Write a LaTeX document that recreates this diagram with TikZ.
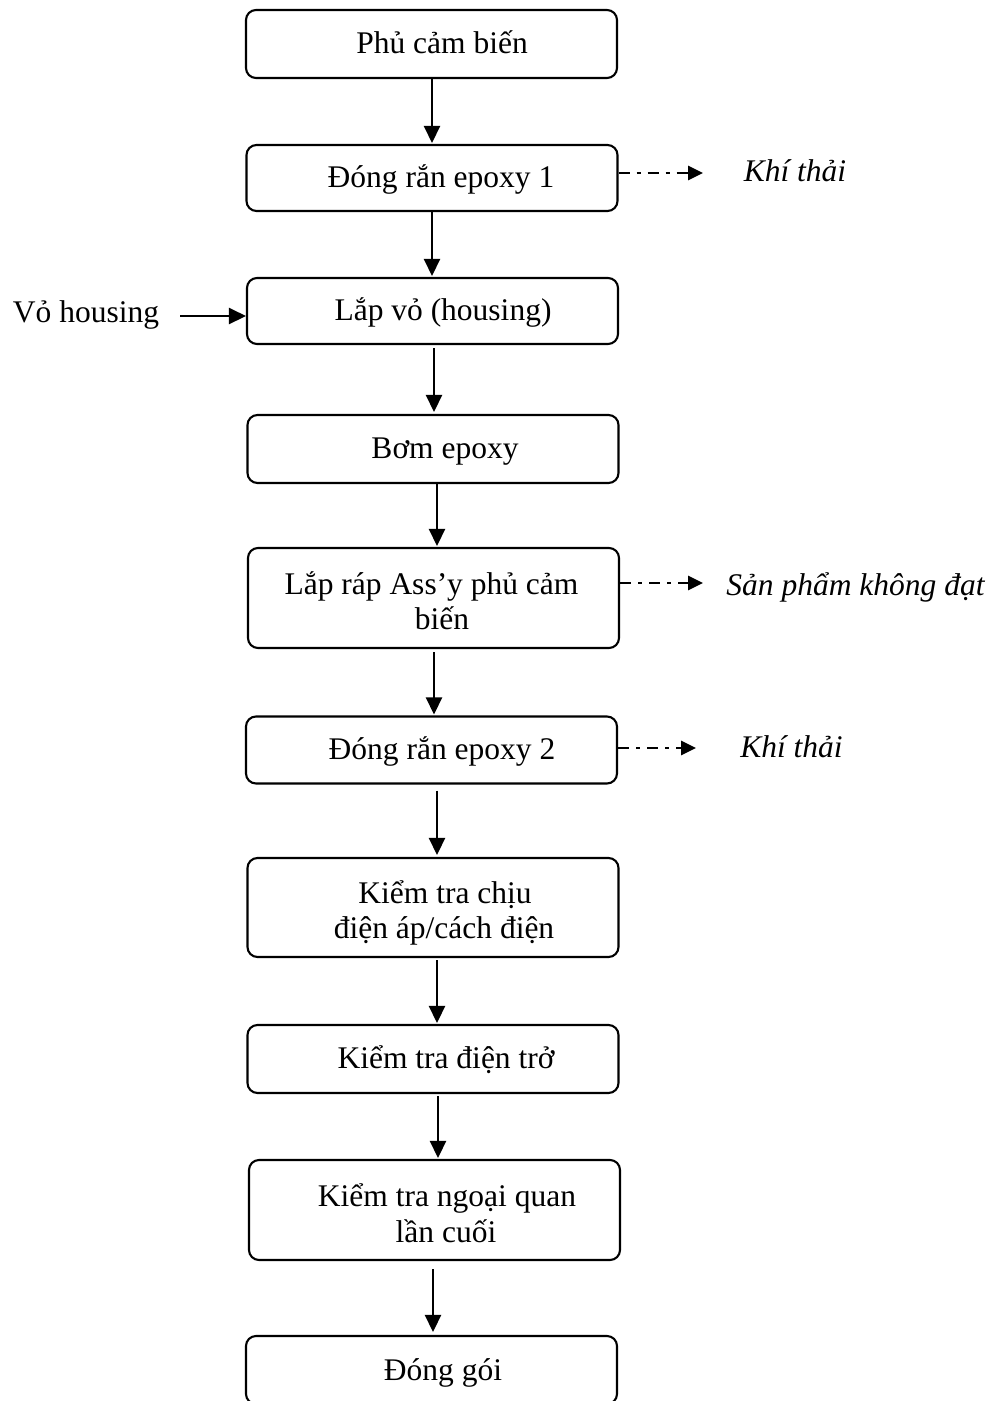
\documentclass[tikz,border=0pt]{standalone}
\usepackage{fontspec}
\setmainfont{Liberation Serif}
\usetikzlibrary{arrows.meta}
\begin{document}
\begin{tikzpicture}[x=1pt,y=-1pt,
  box/.style={draw, rounded corners=10pt, line width=2.1pt, minimum width=371pt, inner sep=0pt},
  txt/.style={anchor=base, inner sep=0pt, font=\fontsize{31.5}{36}\selectfont},
  side/.style={anchor=base, inner sep=0pt, font=\fontsize{31.5}{36}\selectfont\itshape},
  arr/.style={line width=2.5pt, -{Triangle[length=17pt,width=16pt]}},
  darr/.style={line width=2.8pt, dash pattern=on 11pt off 7pt on 4pt off 7pt, -{Triangle[length=15pt,width=14pt]}}]
\useasboundingbox (0,0) rectangle (997,1401);
\clip (0,0) rectangle (997,1401);

% process boxes
\node[box, minimum height=68pt]  (b1)  at (431.5,44)   {};
\node[box, minimum height=66pt]  (b2)  at (432,178)    {};
\node[box, minimum height=66pt]  (b3)  at (432.5,311)  {};
\node[box, minimum height=68pt]  (b4)  at (433,449)    {};
\node[box, minimum height=100pt] (b5)  at (433.5,598)  {};
\node[box, minimum height=67pt]  (b6)  at (431.5,750)  {};
\node[box, minimum height=99pt]  (b7)  at (433,907.5)  {};
\node[box, minimum height=68pt]  (b8)  at (433,1059)   {};
\node[box, minimum height=100pt] (b9)  at (434.5,1210) {};
\node[box, minimum height=68pt]  (b10) at (431.5,1370) {};

% box texts
\node[txt] (t1)  at (442,53)    {Phủ cảm biến};
\node[txt] (t2)  at (441,187)   {Đóng rắn epoxy 1};
\node[txt] (t3)  at (443,320)   {Lắp vỏ (housing)};
\node[txt] (t4)  at (445,458)   {Bơm epoxy};
\node[txt] (t5a) at (431.5,594) {Lắp ráp Ass’y phủ cảm};
\node[txt] (t5b) at (442,629)   {biến};
\node[txt] (t6)  at (442,759)   {Đóng rắn epoxy 2};
\node[txt] (t7a) at (445,903)   {Kiểm tra chịu};
\node[txt] (t7b) at (444,938)   {điện áp/cách điện};
\node[txt] (t8)  at (446,1068)  {Kiểm tra điện trở};
\node[txt] (t9a) at (447,1206)  {Kiểm tra ngoại quan};
\node[txt] (t9b) at (446,1242)  {lần cuối};
\node[txt] (t10) at (443,1380)  {Đóng gói};

% main flow
\coordinate (a1) at (432,0);
\coordinate (a2) at (432,0);
\coordinate (a3) at (434,0);
\coordinate (a4) at (437,0);
\coordinate (a5) at (434,0);
\coordinate (a6) at (437,0);
\coordinate (a7) at (437,0);
\coordinate (a8) at (438,0);
\coordinate (a9) at (433,0);
\draw[arr, shorten >=1pt]              (b1.south -| a1) -- (b2.north -| a1);
\draw[arr, shorten >=1pt]              (b2.south -| a2) -- (b3.north -| a2);
\draw[arr, shorten <=3pt, shorten >=2pt] (b3.south -| a3) -- (b4.north -| a3);
\draw[arr, shorten >=1pt]              (b4.south -| a4) -- (b5.north -| a4);
\draw[arr, shorten <=3pt, shorten >=1pt] (b5.south -| a5) -- (b6.north -| a5);
\draw[arr, shorten <=6pt, shorten >=2pt] (b6.south -| a6) -- (b7.north -| a6);
\draw[arr, shorten <=2pt, shorten >=1pt] (b7.south -| a7) -- (b8.north -| a7);
\draw[arr, shorten <=2pt, shorten >=1pt] (b8.south -| a8) -- (b9.north -| a8);
\draw[arr, shorten <=8pt, shorten >=3pt] (b9.south -| a9) -- (b10.north -| a9);

% input
\node[txt] (h) at (86,322) {Vỏ housing};
\coordinate (hs) at (180,316);
\draw[arr] (hs) -- (hs -| b3.west);

% outputs
\coordinate (s1) at (703,173);
\coordinate (s2) at (703,583);
\coordinate (s3) at (696,748);
\draw[darr] (b2.east |- s1) -- (s1);
\draw[darr] (b5.east |- s2) -- (s2);
\draw[darr] (b6.east |- s3) -- (s3);
\node[side] (k1) at (795,181)   {Khí thải};
\node[side] (k2) at (855.5,595) {Sản phẩm không đạt};
\node[side] (k3) at (791.5,757) {Khí thải};
\end{tikzpicture}
\end{document}
